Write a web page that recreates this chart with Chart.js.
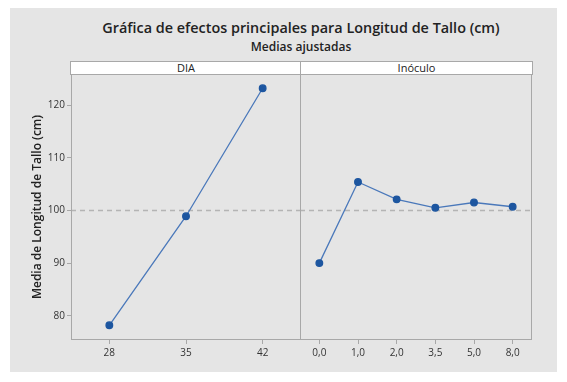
<!DOCTYPE html>
<html>
<head>
<meta charset="utf-8">
<script src="https://cdn.jsdelivr.net/npm/chart.js@4.4.1/dist/chart.umd.min.js"></script>
<style>
  body { margin: 0; background: #fff; font-family: 'Open Sans', sans-serif; }
  #bg { position: absolute; left: 10px; top: 8px; width: 547px; height: 364px; background: #e5e5e5; }
  .ttl { position: absolute; left: 40px; width: 522px; text-align: center; color: #222; font-weight: 600; white-space: nowrap; }
  #title { top: 18px; font-size: 14.4px; }
  #subtitle { top: 38px; font-size: 12px; }
  .strip { position: absolute; top: 61px; height: 12px; background: #fff; border: 1px solid #a8a8a8;
           font-size: 11px; line-height: 12px; text-align: center; color: #222; }
  canvas { position: absolute; }
</style>
</head>
<body>
<div id="bg"></div>
<div class="ttl" id="title">Gráfica de efectos principales para Longitud de Tallo (cm)</div>
<div class="ttl" id="subtitle">Medias ajustadas</div>
<div class="strip" style="left:70px;width:230px">DIA</div>
<div class="strip" style="left:300px;width:231px">Inóculo</div>
<canvas id="dia" width="292" height="298" style="left:10px;top:74px"></canvas>
<canvas id="inoculo" width="234" height="298" style="left:299px;top:74px"></canvas>
<script>
// datos
const diaLabels = ['28', '35', '42'];
const diaMeans = [78.2, 98.9, 123.2];
const inoLabels = ['0,0', '1,0', '2,0', '3,5', '5,0', '8,0'];
const inoMeans = [90.0, 105.4, 102.1, 100.5, 101.5, 100.7];
const yTicks = [80, 90, 100, 110, 120];
const grandMean = 100;
const yMin = 75.4, yMax = 125.9;

const lineColor = '#4a78ba';
const dotColor = '#1d56a0';
const frameColor = '#a8a8a8';

// marco del panel + linea de la media general
const panelPlugin = {
    id: 'panel',
    beforeDatasetsDraw(chart) {
        const ctx = chart.ctx, a = chart.chartArea;
        const y = chart.scales.y.getPixelForValue(grandMean);
        ctx.save();
        ctx.strokeStyle = '#b4b4b4';
        ctx.lineWidth = 1.5;
        ctx.setLineDash([5, 4]);
        ctx.beginPath();
        ctx.moveTo(a.left, Math.round(y) + 0.5);
        ctx.lineTo(a.right, Math.round(y) + 0.5);
        ctx.stroke();
        ctx.restore();
    },
    afterDraw(chart) {
        const ctx = chart.ctx, a = chart.chartArea;
        ctx.save();
        ctx.strokeStyle = frameColor;
        ctx.lineWidth = 1;
        ctx.strokeRect(a.left + 0.5, a.top + 0.5, a.right - a.left - 1, a.bottom - a.top - 1);
        ctx.restore();
    }
};

function makeConfig(labels, values, showY, pad) {
    return {
        type: 'line',
        data: {
            labels: labels,
            datasets: [{
                data: values,
                borderColor: lineColor,
                borderWidth: 1.3,
                pointBackgroundColor: dotColor,
                pointBorderColor: dotColor,
                pointRadius: 3.3,
                tension: 0,
                clip: false
            }]
        },
        options: {
            responsive: false,
            animation: false,
            layout: { padding: pad, autoPadding: false },
            plugins: { legend: { display: false }, tooltip: { enabled: false } },
            scales: {
                x: {
                    type: 'category',
                    offset: true,
                    grid: { drawOnChartArea: false, drawTicks: true, tickLength: 4, color: frameColor },
                    border: { display: false },
                    ticks: { color: '#333', font: { family: 'Open Sans', size: 10 }, padding: 3, maxRotation: 0 },
                    afterFit(s) { s.height = 32; s.paddingLeft = 0; s.paddingRight = 0; }
                },
                y: {
                    display: showY,
                    min: yMin,
                    max: yMax,
                    afterBuildTicks(s) { s.ticks = yTicks.map(v => ({ value: v })); },
                    grid: { drawOnChartArea: false, drawTicks: true, tickLength: 4, color: frameColor },
                    border: { display: false },
                    ticks: { color: '#333', font: { family: 'Open Sans', size: 10 }, padding: 2 },
                    title: {
                        display: true,
                        text: 'Media de Longitud de Tallo (cm)',
                        color: '#222',
                        font: { family: 'Open Sans', size: 12, weight: '600' },
                        padding: { top: 20, bottom: 0 }
                    },
                    afterFit(s) { s.width = showY ? 61 : 0; s.paddingTop = 0; s.paddingBottom = 0; }
                }
            }
        },
        plugins: [panelPlugin]
    };
}

new Chart(document.getElementById('dia'), makeConfig(diaLabels, diaMeans, true, { top: 0, right: 1, left: 0, bottom: 0 }));
new Chart(document.getElementById('inoculo'), makeConfig(inoLabels, inoMeans, false, { top: 0, right: 1, left: 1, bottom: 0 }));
</script>
</body>
</html>
